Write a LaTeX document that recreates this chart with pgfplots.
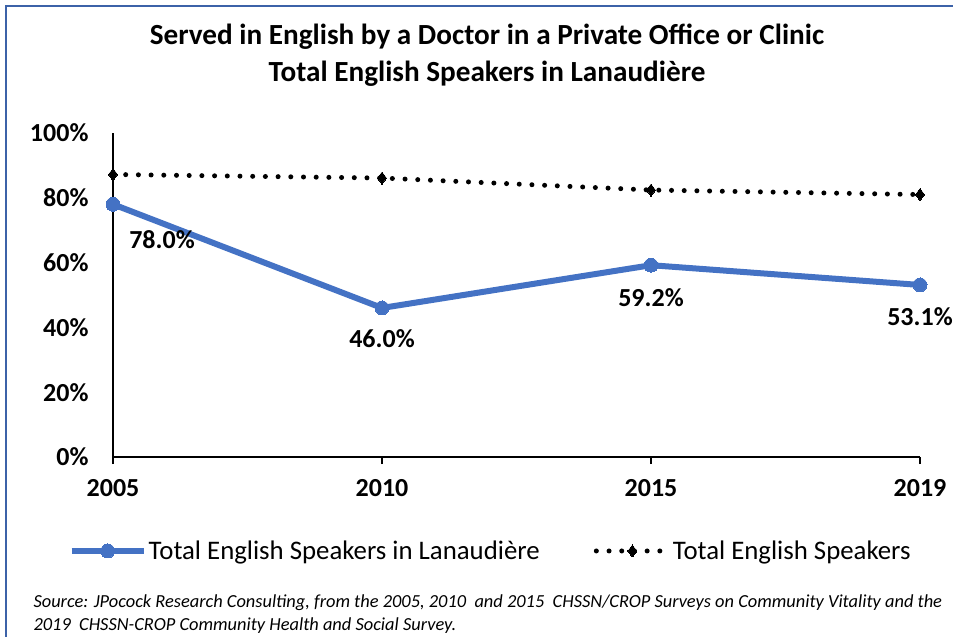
\documentclass[border=0pt]{standalone}
\usepackage{pgfplots}
\pgfplotsset{compat=1.18}
\usepackage{fontspec}
\setmainfont{Carlito}
\definecolor{lineblue}{RGB}{68,114,196}
\definecolor{frameblue}{RGB}{60,98,168}
\begin{document}
\begin{tikzpicture}[x=1pt,y=1pt]
\useasboundingbox (0,0) rectangle (953,-637);
\draw[frameblue, line width=2pt] (5.5,-660) -- (5.5,-5.5) -- (980,-5.5);
\node[font=\fontsize{29.2}{29}\selectfont\bfseries] at (487,-37) {Served in English by a Doctor in a Private Office or Clinic};
\node[font=\fontsize{29.2}{29}\selectfont\bfseries] at (487,-74) {Total English Speakers in Lanaudière};
\begin{axis}[
  at={(113pt,-457pt)}, anchor=origin,
  scale only axis, width=807pt, height=324pt,
  xmin=0, xmax=3, ymin=0, ymax=100,
  clip=false,
  axis x line*=bottom, axis y line*=left,
  axis line style={black, line width=1.3pt},
  xtick={0,1,2,3}, xticklabels={2005,2010,2015,2019},
  ytick={0,20,40,60,80,100}, yticklabels={0\%,20\%,40\%,60\%,80\%,100\%},
  ytick style={draw=none},
  xtick style={black, line width=1.3pt},
  tick align=outside, major tick length=7pt,
  every tick label/.append style={font=\fontsize{26}{26}\selectfont\bfseries},
  yticklabel style={xshift=-14pt},
  xticklabel style={yshift=-12pt},
  legend style={at={(0.468,-0.29)}, anchor=center, draw=none, fill=none,
    legend columns=2, font=\fontsize{26.8}{26.8}\selectfont,
    /tikz/every even column/.append style={column sep=52pt},
    /tikz/every odd column/.append style={},
    nodes={inner xsep=2pt}},
  legend image code/.code={\draw[mark repeat=2,mark phase=2,#1] plot coordinates {(0pt,0pt) (36pt,0pt) (72pt,0pt)};},
]
\addplot[lineblue, line width=6pt, mark=*, mark size=7pt, mark options={solid, fill=lineblue, draw=lineblue, line width=0pt}]
  coordinates {(0,78.0) (1,46.0) (2,59.2) (3,53.1)};
\addlegendentry{Total English Speakers in Lanaudière}
\addplot[black, line width=5pt, line cap=round, dash pattern=on 0pt off 12.7pt, mark=diamond*, mark size=6pt, mark options={solid, fill=black, line width=0pt}]
  coordinates {(0,87.2) (1,86.1) (2,82.4) (3,81.0)};
\addlegendentry{Total English Speakers}
\node[font=\fontsize{26}{26}\selectfont\bfseries, anchor=center] at (axis cs:0,78.0) [xshift=49pt, yshift=-35pt] {78.0\%};
\node[font=\fontsize{26}{26}\selectfont\bfseries, anchor=center] at (axis cs:1,46.0) [yshift=-31pt] {46.0\%};
\node[font=\fontsize{26}{26}\selectfont\bfseries, anchor=center] at (axis cs:2,59.2) [yshift=-32pt] {59.2\%};
\node[font=\fontsize{26}{26}\selectfont\bfseries, anchor=center] at (axis cs:3,53.1) [yshift=-32pt] {53.1\%};
\end{axis}
\node[font=\fontsize{18.4}{18}\selectfont\itshape, anchor=base west] at (30,-607) {Source: JPocock Research Consulting, from the 2005, 2010 \ and 2015 \ CHSSN/CROP Surveys on Community Vitality and the};
\node[font=\fontsize{18.4}{18}\selectfont\itshape, anchor=base west] at (30,-630) {2019 \ CHSSN-CROP Community Health and Social Survey.};
\end{tikzpicture}
\end{document}
